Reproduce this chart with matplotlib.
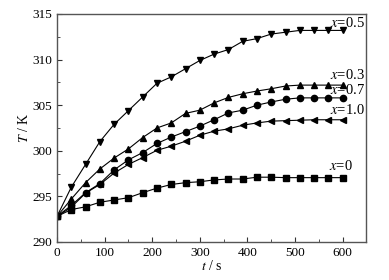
import matplotlib
matplotlib.use("Agg")
import matplotlib.pyplot as plt
from matplotlib.ticker import MultipleLocator

# time axis (s), samples every 30 s
t = list(range(0, 601, 30))

# temperature (K) for each mole fraction x
T_x05 = [292.8, 296.0, 298.5, 301.0, 302.9, 304.4, 305.9, 307.4, 308.1, 309.0, 309.9,
         310.6, 311.1, 312.0, 312.3, 312.8, 313.0, 313.2, 313.2, 313.2, 313.2]
T_x03 = [292.8, 294.7, 296.5, 298.0, 299.2, 300.2, 301.45, 302.5, 303.05, 304.1, 304.45,
         305.25, 305.85, 306.25, 306.55, 306.8, 307.1, 307.2, 307.2, 307.2, 307.2]
T_x07 = [292.8, 294.0, 295.4, 296.4, 297.9, 299.0, 299.8, 300.8, 301.5, 302.1, 302.7,
         303.4, 304.15, 304.45, 305.0, 305.35, 305.65, 305.8, 305.8, 305.8, 305.8]
T_x10 = [292.8, 293.8, 295.35, 296.3, 297.55, 298.5, 299.25, 300.05, 300.5, 301.05, 301.7,
         302.15, 302.4, 302.8, 303.05, 303.25, 303.3, 303.35, 303.4, 303.4, 303.4]
T_x0 = [292.8, 293.55, 293.85, 294.35, 294.6, 294.85, 295.4, 295.9, 296.3, 296.5, 296.6,
        296.8, 296.9, 296.9, 297.1, 297.1, 297.05, 297.05, 297.05, 297.05, 297.05]

series = [
    (T_x05, "v", "0.5", 314.0),
    (T_x03, "^", "0.3", 308.3),
    (T_x07, "o", "0.7", 306.65),
    (T_x10, "<", "1.0", 304.5),
    (T_x0, "s", "0", 298.3),
]

plt.rcParams['font.family'] = ['Liberation Serif', 'DejaVu Serif']
plt.rcParams['mathtext.fontset'] = 'stix'

fig = plt.figure(figsize=(3.89, 2.80), dpi=100)
ax = fig.add_axes([0.1465, 0.136, 0.7955, 0.814])

for vals, mk, lab, ly in series:
    ax.plot(t, vals, color='black', lw=0.8, marker=mk, markersize=4.5)
    xr = 622 if lab == "0" else 646
    ax.text(xr, ly, r"$x$=" + lab, ha='right', va='center', fontsize=10.5)

ax.set_xlim(0, 650)
ax.set_ylim(290, 315)
ax.xaxis.set_major_locator(MultipleLocator(100))
ax.xaxis.set_minor_locator(MultipleLocator(50))
ax.yaxis.set_major_locator(MultipleLocator(5))
ax.yaxis.set_minor_locator(MultipleLocator(2.5))
ax.tick_params(which='both', direction='in', labelsize=9.5, color='#333333')
ax.tick_params(which='major', length=3.5)
ax.tick_params(which='minor', length=2)
for sp in ax.spines.values():
    sp.set_color('#555555')
    sp.set_linewidth(1.0)

ax.set_xlabel(r"$t$ / s", fontsize=10, labelpad=0)
ax.set_ylabel(r"$T$ / K", fontsize=10, labelpad=1)

fig.savefig("out.png", dpi=100)
